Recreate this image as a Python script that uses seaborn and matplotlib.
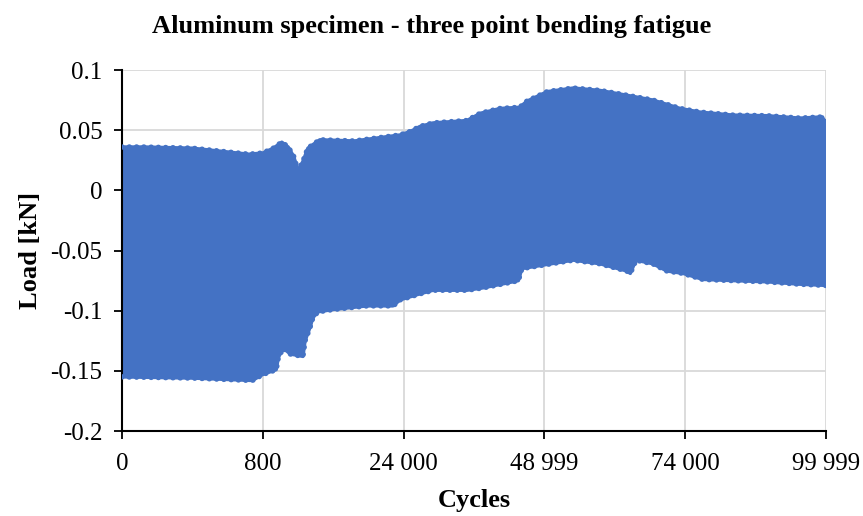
import matplotlib
matplotlib.use("Agg")
import matplotlib.pyplot as plt
import seaborn as sns
import pandas as pd

# ---- data ----
tick_labels = ["0", "800", "24 000", "48 999", "74 000", "99 999"]
tick_pos = [0, 20, 40, 60, 80, 100]

upper_x = [0, 3, 10, 18, 20, 21.5, 22.7, 23.6, 24.4, 25, 25.7, 26.4, 28.1, 33, 39.5,
           41, 42.3, 44.2, 49, 50.9, 53.7, 56.5, 57.5, 60.4, 64.1, 67.9, 71.7, 75.4,
           79.3, 82.1, 86.8, 91.6, 96.3, 99.5, 100]
upper_y = [0.036, 0.036, 0.035, 0.030, 0.031, 0.035, 0.040, 0.036, 0.028, 0.016, 0.024,
           0.035, 0.042, 0.041, 0.046, 0.049, 0.053, 0.056, 0.058, 0.064, 0.068, 0.069,
           0.074, 0.082, 0.085, 0.083, 0.079, 0.075, 0.068, 0.065, 0.0625, 0.062, 0.060,
           0.061, 0.054]

lower_x = [0, 10, 18.5, 20, 21.9, 22.2, 22.9, 23.9, 25.7, 26.0, 26.7, 27.1, 27.8, 30,
           34.8, 38.5, 39.5, 42.3, 44.2, 49, 51.3, 54.7, 56.3, 56.8, 59.4, 64.1, 67.9,
           71.7, 72.2, 73.0, 75.4, 77.4, 79.7, 82.5, 86.8, 91.6, 96.3, 100]
lower_y = [-0.155, -0.156, -0.158, -0.153, -0.149, -0.139, -0.131, -0.136, -0.138,
           -0.125, -0.114, -0.106, -0.101, -0.099, -0.096, -0.096, -0.091, -0.086,
           -0.083, -0.083, -0.081, -0.077, -0.075, -0.065, -0.0625, -0.058, -0.061,
           -0.067, -0.069, -0.058, -0.061, -0.067, -0.069, -0.074, -0.075, -0.076,
           -0.078, -0.079]

color = "#4472C4"

sns.set_theme(style="white")
plt.rcParams["font.family"] = ["Liberation Serif", "DejaVu Serif"]
plt.rcParams["text.color"] = "black"
plt.rcParams["axes.labelcolor"] = "black"

fig = plt.figure(figsize=(8.63, 5.16), dpi=100)
ax = fig.add_axes([122 / 863, 1 - 431 / 516, (826 - 122) / 863, (431 - 70) / 516])

up = pd.DataFrame({"x": upper_x, "y": upper_y})
lo = pd.DataFrame({"x": lower_x, "y": lower_y})

poly_x = list(upper_x) + list(reversed(lower_x))
poly_y = list(upper_y) + list(reversed(lower_y))
ax.fill(poly_x, poly_y, color=color, lw=0, zorder=2)
for df in (up, lo):
    sns.lineplot(data=df, x="x", y="y", ax=ax, color=color, lw=2.5, zorder=3,
                 solid_capstyle="round", solid_joinstyle="round")
    sns.lineplot(data=df, x="x", y="y", ax=ax, color=color, lw=4, zorder=3,
                 linestyle=(0, (0.01, 1.3)), dash_capstyle="round")

ax.set_xlim(0, 100)
ax.set_ylim(-0.2, 0.1)
ax.set_xticks(tick_pos)
ax.set_xticklabels(tick_labels)
yt = [-0.2, -0.15, -0.1, -0.05, 0, 0.05, 0.1]
ax.set_yticks(yt)
ax.set_yticklabels(["-0.2", "-0.15", "-0.1", "-0.05", "0", "0.05", "0.1"])

ax.grid(True, color="#d9d9d9", lw=1.3, zorder=0)
ax.set_axisbelow(True)
for s in ["top", "right"]:
    ax.spines[s].set_visible(False)
for s in ["left", "bottom"]:
    ax.spines[s].set_color("black")
    ax.spines[s].set_linewidth(1.5)
ax.tick_params(axis="both", which="major", direction="out", length=6, width=1.3,
               color="black", labelsize=18, labelcolor="black", bottom=True, left=True)
ax.tick_params(axis="x", pad=10)
ax.tick_params(axis="y", pad=8)

ax.set_xlabel("Cycles", fontsize=19, fontweight="bold", labelpad=10, color="black")
ax.set_ylabel("Load [kN]", fontsize=19, fontweight="bold", labelpad=6, color="black")
fig.text(0.5, 1 - 27 / 516, "Aluminum specimen - three point bending fatigue",
         ha="center", va="center", fontsize=19, fontweight="bold", color="black")

fig.savefig("out.png", dpi=100)
